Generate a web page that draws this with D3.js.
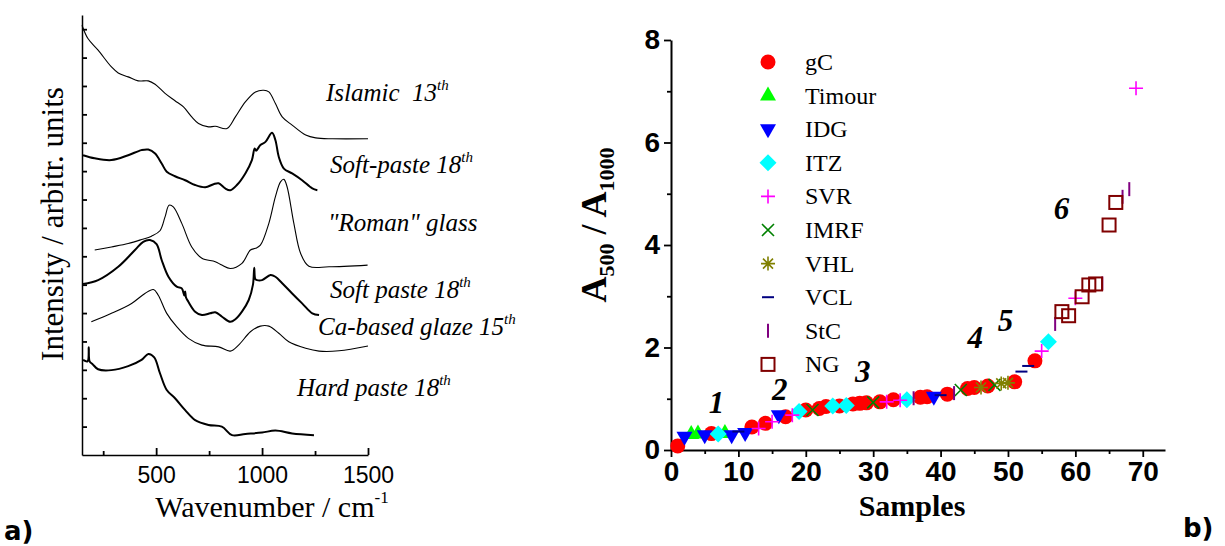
<!DOCTYPE html>
<html>
<head>
<meta charset="utf-8">
<script src="https://cdn.jsdelivr.net/npm/d3@7"></script>
<style>
body { margin: 0; background: #fff; }
</style>
</head>
<body>
<div id="chart"></div>
<script>
// ---- panel a: spectra, [wavenumber, intensity in axis tick units] ----
var islamic = [[150,15.14],[178,14.67],[226,14.26],[289,13.67],[321,13.46],[368,13.32],[415,13.18],[463,13.18],[495,13.06],[542,12.74],[589,12.48],[629,12.26],[668,11.91],[700,11.68],[747,11.56],[779,11.58],[834,11.5],[874,11.91],[921,12.44],[969,12.79],[1008,12.85],[1032,12.79],[1063,12.38],[1095,11.91],[1142,11.62],[1206,11.27],[1253,11.17],[1332,11.14],[1500,11.14]];
var softPasteA = [[155,10.56],[210,10.45],[289,10.39],[368,10.56],[431,10.74],[463,10.76],[495,10.62],[526,10.27],[550,9.98],[589,9.82],[637,9.68],[684,9.51],[732,9.43],[771,9.54],[795,9.57],[826,9.39],[850,9.33],[881,9.51],[921,9.92],[952,10.39],[965,10.8],[972,10.72],[992,10.92],[1016,11.03],[1047,11.35],[1063,11.09],[1079,10.5],[1103,10.09],[1142,9.92],[1189,9.68],[1237,9.39],[1261,9.33]];
var romanGlass = [[210,7.22],[289,7.33],[368,7.45],[431,7.59],[478,7.71],[518,7.9],[542,8.39],[561,8.8],[581,8.74],[621,8.16],[668,7.33],[716,6.93],[779,6.81],[810,6.69],[850,6.57],[905,6.75],[945,7.22],[969,7.28],[992,7.39],[1032,8.16],[1063,9.1],[1087,9.62],[1103,9.71],[1118,9.45],[1150,8.16],[1182,7.1],[1221,6.65],[1316,6.63],[1498,6.69]];
var softPasteB = [[155,6.02],[226,6.16],[321,6.63],[400,7.22],[439,7.51],[471,7.57],[502,7.43],[526,6.87],[558,6.28],[597,5.93],[621,5.87],[633,5.62],[637,5.76],[641,5.55],[652,5.4],[684,5.05],[716,4.93],[755,4.99],[779,5.03],[811,4.87],[850,4.69],[874,4.78],[905,5.05],[937,5.46],[957,6.0],[963,6.6],[968,6.2],[976,6.16],[1000,6.16],[1040,6.34],[1063,6.28],[1095,6.05],[1142,5.69],[1189,5.34],[1237,4.99],[1269,4.93]];
var caGlaze = [[194,4.69],[289,4.99],[384,5.34],[447,5.69],[487,5.83],[510,5.63],[550,4.99],[597,4.52],[652,4.11],[716,3.87],[795,3.81],[850,3.66],[889,3.87],[945,4.34],[992,4.54],[1032,4.54],[1079,4.29],[1126,3.99],[1206,3.76],[1269,3.66],[1363,3.67],[1500,3.84]];
var hardPaste = [[155,3.35],[176,3.3],[182,3.8],[186,3.3],[200,3.2],[226,3.02],[289,2.99],[368,3.13],[431,3.35],[463,3.56],[491,3.44],[518,2.88],[550,2.29],[589,2.0],[637,1.58],[684,1.23],[747,1.06],[810,1.0],[858,0.7],[921,0.74],[1000,0.79],[1063,0.86],[1142,0.76],[1245,0.7]];

var spectrumNames = ['Islamic  13', 'Soft-paste 18', '"Roman" glass', 'Soft paste 18', 'Ca-based glaze 15', 'Hard paste 18'];
var spectrumSup = ['th', 'th', '', 'th', 'th', 'th'];
var waveTicks = [500, 1000, 1500];

// ---- panel b: A500/A1000 per sample ----
var gcSample = [1,6,12,14,17,20,22,23,25,27,28,29,31,33,37,38,41,44,45,47,51,54];
var gcRatio  = [0.08,0.32,0.45,0.52,0.65,0.78,0.81,0.85,0.86,0.9,0.91,0.92,0.94,0.98,1.03,1.04,1.09,1.2,1.22,1.25,1.33,1.74];
var timourSample = [3,4,8];
var timourRatio  = [0.31,0.32,0.33];
var idgSample = [2,5,9,11,16,39];
var idgRatio  = [0.26,0.29,0.29,0.33,0.68,1.04];
var itzSample = [7,19,24,26,35,56];
var itzRatio  = [0.31,0.75,0.86,0.87,0.98,2.11];
var svrSample = [13,15,18,32,34,55,60,69];
var svrRatio  = [0.42,0.55,0.68,0.94,0.97,1.93,2.96,7.06];
var imrfSample = [21,30,43,48];
var imrfRatio  = [0.78,0.93,1.17,1.27];
var vhlSample = [46,49,50];
var vhlRatio  = [1.22,1.3,1.31];
var vclSample = [10,40,52,53];
var vclRatio  = [0.36,1.07,1.53,1.64];
var stcSample = [36,42,57,64,67,68];
var stcRatio  = [1.01,1.11,2.46,3.25,4.94,5.09];
var ngSample = [58,59,61,62,63,65,66];
var ngRatio  = [2.7,2.62,2.99,3.22,3.24,4.39,4.83];

var seriesNames = ['gC','Timour','IDG','ITZ','SVR','IMRF','VHL','VCL','StC','NG'];
var groupLabels = ['1','2','3','4','5','6'];
var groupAt = [[5.6,0.72],[15,0.98],[27.3,1.33],[44,2.0],[48.5,2.33],[56.8,4.5]];

var serif = '"Liberation Serif", "Times New Roman", serif';
var sans = '"Liberation Sans", Arial, sans-serif';

var svg = d3.select('#chart').append('svg')
    .attr('width', 1225)
    .attr('height', 546)
    .style('background', '#fff');

// ================= panel a =================
var xa = d3.scaleLinear().domain([150, 1500]).range([82, 368]);
var ya = d3.scaleLinear().domain([0, 15.5]).range([455, 15]);

var line = d3.line()
    .x(function (d) { return xa(d[0]); })
    .y(function (d) { return ya(d[1]); })
    .curve(d3.curveCatmullRom.alpha(0.5));

var spectra = [islamic, softPasteA, romanGlass, softPasteB, caGlaze, hardPaste];
var thick = [1.1, 2, 1.1, 2, 1.1, 2];
svg.append('g').selectAll('path')
    .data(spectra)
    .enter().append('path')
    .attr('d', line)
    .attr('fill', 'none')
    .attr('stroke', '#000')
    .attr('stroke-width', function (d, i) { return thick[i]; });

// axes a
svg.append('g')
    .attr('transform', 'translate(82,0)')
    .call(d3.axisLeft(ya).tickValues(d3.range(1, 16)).tickSize(-5).tickSizeOuter(0).tickFormat(''));
var axAxis = svg.append('g')
    .attr('transform', 'translate(0,455)')
    .call(d3.axisBottom(xa).tickValues(waveTicks).tickSize(-7).tickSizeOuter(0)
        .tickPadding(12).tickFormat(d3.format('d')));
svg.append('g')
    .attr('transform', 'translate(0,455)')
    .call(d3.axisBottom(xa).tickValues([250, 750, 1250]).tickSize(-4).tickSizeOuter(0).tickFormat(''))
    .select('.domain').remove();
svg.selectAll('.domain').attr('stroke-width', 1.5);
axAxis.selectAll('text').attr('font-family', sans).attr('font-size', 23).attr('fill', '#000');

var labelPos = [[326, 101], [330, 173], [328, 231], [330, 298], [318, 335], [297, 396]];
spectrumNames.forEach(function (name, i) {
    var t = svg.append('text')
        .attr('x', labelPos[i][0]).attr('y', labelPos[i][1])
        .attr('font-family', serif).attr('font-style', 'italic')
        .attr('font-size', 25)
        .style('white-space', 'pre')
        .text(name);
    if (spectrumSup[i]) {
        t.append('tspan').attr('dy', -11).attr('font-size', 15).text(spectrumSup[i]);
    }
});

svg.append('text')
    .attr('transform', 'translate(63,224) rotate(-90)')
    .attr('text-anchor', 'middle')
    .attr('font-family', serif).attr('font-size', 31)
    .text('Intensity / arbitr. units');

var xt = svg.append('text')
    .attr('x', 272).attr('y', 517)
    .attr('text-anchor', 'middle')
    .attr('font-family', serif).attr('font-size', 30)
    .text('Wavenumber / cm');
xt.append('tspan').attr('dy', -14).attr('font-size', 17).text('-1');

svg.append('text').attr('x', 4).attr('y', 540)
    .attr('font-family', '"DejaVu Sans", sans-serif').attr('font-weight', 'bold').attr('font-size', 26)
    .text('a)');

// ================= panel b =================
var xb = d3.scaleLinear().domain([0, 73.3]).range([671, 1165]);
var yb = d3.scaleLinear().domain([0, 8]).range([450, 40]);

var byAxis = svg.append('g')
    .attr('transform', 'translate(671,0)')
    .call(d3.axisLeft(yb).tickValues([0, 2, 4, 6, 8]).tickSize(7).tickSizeOuter(0).tickPadding(4));
svg.append('g')
    .attr('transform', 'translate(671,0)')
    .call(d3.axisLeft(yb).tickValues([1, 3, 5, 7]).tickSize(4).tickFormat(''))
    .select('.domain').remove();
var bxAxis = svg.append('g')
    .attr('transform', 'translate(0,450)')
    .call(d3.axisBottom(xb).tickValues(d3.range(0, 71, 10)).tickSize(7).tickSizeOuter(0).tickPadding(4));
svg.append('g')
    .attr('transform', 'translate(0,450)')
    .call(d3.axisBottom(xb).tickValues(d3.range(5, 71, 10)).tickSize(4).tickFormat(''))
    .select('.domain').remove();
[byAxis, bxAxis].forEach(function (ax) {
    ax.select('.domain').attr('stroke-width', 2);
    ax.selectAll('text').attr('font-family', sans).attr('font-weight', 'bold')
        .attr('font-size', 28).attr('fill', '#000');
});
svg.selectAll('.tick line').attr('stroke-width', 1.8);

var colors = ['#ff0000', '#00ff00', '#0000ff', '#00ffff', '#ff00ff', '#008000', '#808000', '#000080', '#800080', '#800000'];
var shapes = ['circle', 'up', 'down', 'diamond', 'plus', 'cross', 'star', 'dash', 'bar', 'square'];

function marker(g, shape, color) {
    if (shape === 'circle') {
        g.append('circle').attr('r', 7.5).attr('fill', color);
    } else if (shape === 'up') {
        g.append('path').attr('d', 'M0,-9L8,5L-8,5Z').attr('fill', color);
    } else if (shape === 'down') {
        g.append('path').attr('d', 'M0,9L8,-5L-8,-5Z').attr('fill', color);
    } else if (shape === 'diamond') {
        g.append('path').attr('d', 'M0,-8.5L8.5,0L0,8.5L-8.5,0Z').attr('fill', color);
    } else if (shape === 'plus') {
        g.append('path').attr('d', 'M-7,0H7M0,-7V7').attr('stroke', color).attr('stroke-width', 1.6);
    } else if (shape === 'cross') {
        g.append('path').attr('d', 'M-6,-6L6,6M-6,6L6,-6').attr('stroke', color).attr('stroke-width', 1.6);
    } else if (shape === 'star') {
        g.append('path').attr('d', 'M-7,0H7M0,-7V7M-5,-5L5,5M-5,5L5,-5').attr('stroke', color).attr('stroke-width', 1.6);
    } else if (shape === 'dash') {
        g.append('path').attr('d', 'M-6,0H6').attr('stroke', color).attr('stroke-width', 2);
    } else if (shape === 'bar') {
        g.append('path').attr('d', 'M0,-7V7').attr('stroke', color).attr('stroke-width', 2);
    } else if (shape === 'square') {
        g.append('rect').attr('x', -6.5).attr('y', -6.5).attr('width', 13).attr('height', 13)
            .attr('fill', 'none').attr('stroke', color).attr('stroke-width', 2);
    }
}

var sampleSets = [gcSample, timourSample, idgSample, itzSample, svrSample, imrfSample, vhlSample, vclSample, stcSample, ngSample];
var ratioSets = [gcRatio, timourRatio, idgRatio, itzRatio, svrRatio, imrfRatio, vhlRatio, vclRatio, stcRatio, ngRatio];

sampleSets.forEach(function (samples, k) {
    var pts = samples.map(function (s, j) { return [s, ratioSets[k][j]]; });
    svg.append('g').selectAll('g')
        .data(pts)
        .enter().append('g')
        .attr('transform', function (d) { return 'translate(' + xb(d[0]) + ',' + yb(d[1]) + ')'; })
        .each(function () { marker(d3.select(this), shapes[k], colors[k]); });
});

// legend
seriesNames.forEach(function (name, i) {
    var y = 62 + i * 33.6;
    marker(svg.append('g').attr('transform', 'translate(768,' + y + ')'), shapes[i], colors[i]);
    svg.append('text').attr('x', 805).attr('y', y + 8)
        .attr('font-family', serif).attr('font-size', 24)
        .text(name);
});

// group numbers
groupLabels.forEach(function (t, i) {
    svg.append('text')
        .attr('x', xb(groupAt[i][0])).attr('y', yb(groupAt[i][1]))
        .attr('font-family', serif).attr('font-style', 'italic').attr('font-weight', 'bold')
        .attr('font-size', 31)
        .text(t);
});

// axis titles
var yl = svg.append('text')
    .attr('transform', 'translate(606,225) rotate(-90)')
    .attr('text-anchor', 'middle')
    .attr('font-family', serif).attr('font-weight', 'bold').attr('font-size', 36);
yl.append('tspan').text('A');
yl.append('tspan').attr('font-size', 22).attr('dy', 8).text('500');
yl.append('tspan').attr('dy', -8).text(' / A');
yl.append('tspan').attr('font-size', 22).attr('dy', 8).text('1000');

svg.append('text')
    .attr('x', 912).attr('y', 516)
    .attr('text-anchor', 'middle')
    .attr('font-family', serif).attr('font-weight', 'bold').attr('font-size', 30)
    .text('Samples');

svg.append('text').attr('x', 1183).attr('y', 537)
    .attr('font-family', '"DejaVu Sans", sans-serif').attr('font-weight', 'bold').attr('font-size', 26)
    .text('b)');
</script>
</body>
</html>
